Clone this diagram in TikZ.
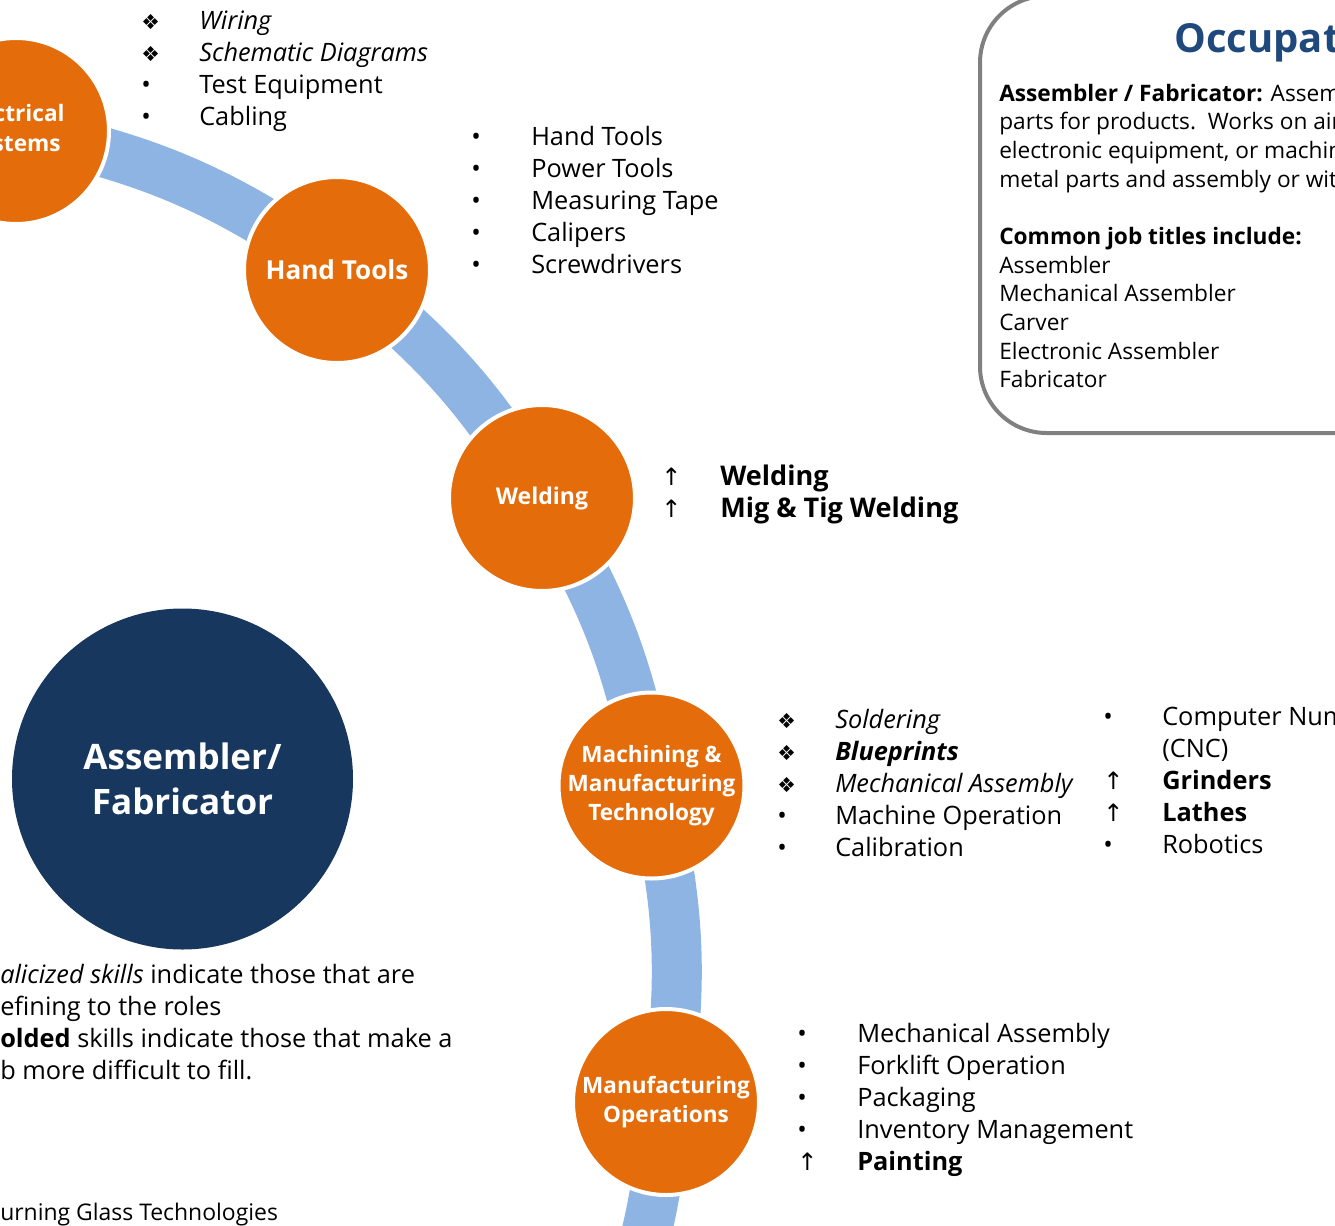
\documentclass[tikz,border=0pt]{standalone}
\usepackage{fontspec}
\setmainfont{Open Sans}
\newfontfamily\symfont{DejaVu Sans}
\usetikzlibrary{backgrounds}
\definecolor{orng}{HTML}{E46C0A}
\definecolor{navy}{HTML}{17375E}
\definecolor{ribbon}{HTML}{8EB4E3}
\definecolor{boxgray}{HTML}{808080}
\definecolor{titleblue}{HTML}{1F497D}
\newcommand\skdia{{\symfont\fontsize{15.5}{15.5}\selectfont ❖}}
\newcommand\skup{{\symfont\fontsize{18}{18}\selectfont ↑}}
\newcommand\skbul{•}
\begin{document}
\begin{tikzpicture}[x=0.75pt,y=-0.75pt,
  skill/.style={circle, fill=orng, draw=white, line width=3pt, minimum size=139.5pt,
    inner sep=0pt, text=white, align=center},
  lst/.style={anchor=base west, inner sep=0pt, font=\fontsize{19}{24}\selectfont},
  boxtxt/.style={anchor=base west, inner sep=0pt, font=\fontsize{17}{21.5}\selectfont},
  ribbonline/.style={draw=ribbon, line width=37.5pt},
]
\useasboundingbox (0,0) rectangle (1335,1225);
\clip (0,0) rectangle (1335,1225);

% skill circles
\node[skill, font=\bfseries\fontsize{17}{22.5}\selectfont] (elec) at (16,131) {Electrical\kern5pt\\Systems\kern3pt};
\node[skill, font=\bfseries\fontsize{19.6}{24}\selectfont] (hand) at (337,270) {Hand Tools};
\node[skill, font=\bfseries\fontsize{17.3}{22}\selectfont] (weld) at (542,498) {Welding};
\node[skill, font=\bfseries\fontsize{16.9}{21.75}\selectfont] (mach) at (651.5,785.5) {Machining \&\\Manufacturing\\Technology};
\node[skill, font=\bfseries\fontsize{16.9}{21.75}\selectfont] (mfg) at (666,1102) {Manufacturing\\Operations};

\coordinate (rstart) at (-140,109);
\coordinate (rend) at (622,1318);
\begin{scope}[on background layer]
\draw[ribbonline] (rstart) to[bend left=5.4] (elec.center) to[bend left=11.8] (hand.center)
  to[bend left=10.4] (weld.center) to[bend left=10.5] (mach.center)
  to[bend left=10.8] (mfg.center) to[bend left=6.5] (rend);
\end{scope}

% main circle
\node[circle, fill=navy, minimum size=255.75pt, inner sep=0pt, text=white, align=center,
  font=\bfseries\fontsize{26.3}{33.75}\selectfont] (main) at (182.5,779) {Assembler/\\Fabricator};

% skill lists
\node[lst] (elist) at (141,29) {\begin{tabular}[t]{@{}p{43.5pt}@{}l@{}}
\skdia & \textit{Wiring}\\
\skdia & \textit{Schematic Diagrams}\\
\skbul & Test Equipment\\
\skbul & Cabling\end{tabular}};

\node[lst] (hlist) at (471,145) {\begin{tabular}[t]{@{}p{45pt}@{}l@{}}
\skbul & Hand Tools\\
\skbul & Power Tools\\
\skbul & Measuring Tape\\
\skbul & Calipers\\
\skbul & Screwdrivers\end{tabular}};

\node[lst, font=\fontsize{20.3}{24}\selectfont] (wlist) at (661,485) {\begin{tabular}[t]{@{}p{44.25pt}@{}l@{}}
\skup & \textbf{Welding}\\
\skup & \textbf{Mig \& Tig Welding}\end{tabular}};

\node[lst] (mlist) at (777,728) {\begin{tabular}[t]{@{}p{43.5pt}@{}l@{}}
\skdia & \textit{Soldering}\\
\skdia & \textbf{\textit{Blueprints}}\\
\skdia & \textit{Mechanical Assembly}\\
\skbul & Machine Operation\\
\skbul & Calibration\end{tabular}};

\node[lst] (mlist2) at (1103,725) {\begin{tabular}[t]{@{}p{44.25pt}@{}l@{}}
\skbul & Computer Numerical Control\\
 & (CNC)\\
\skup & \textbf{Grinders}\\
\skup & \textbf{Lathes}\\
\skbul & Robotics\end{tabular}};

\node[lst] (olist) at (797,1042) {\begin{tabular}[t]{@{}p{45pt}@{}l@{}}
\skbul & Mechanical Assembly\\
\skbul & Forklift Operation\\
\skbul & Packaging\\
\skbul & Inventory Management\\
\skup & \textbf{Painting}\end{tabular}};

% occupation box
\draw[boxgray, line width=3pt, rounded corners=50pt] (980,-4) rectangle (1420,433);
\node[anchor=base west, inner sep=0pt, text=titleblue, font=\bfseries\fontsize{30}{36}\selectfont] (title) at (1174,52) {Occupation};
\node[boxtxt] (desc) at (999,101) {\begin{tabular}[t]{@{}l@{}}
\textbf{Assembler / Fabricator:} Assembles\\
parts for products.\ \ Works on aircraft,\\
electronic equipment, or machinery\\
metal parts and assembly or with\\
\\
\textbf{Common job titles include:}\\
Assembler\\
Mechanical Assembler\\
Carver\\
Electronic Assembler\\
Fabricator\end{tabular}};

% legend
\node[lst] (legend) at (0,983) {\begin{tabular}[t]{@{}l@{}}
\llap{\textit{It}}\textit{alicized skills} indicate those that are\\
\llap{d}efining to the roles\\
\llap{\textbf{B}}\textbf{olded} skills indicate those that make a\\
\llap{jo}b more difficult to fill.\end{tabular}};
\node[lst, font=\fontsize{17.2}{24}\selectfont] (source) at (0,1220) {\llap{B}urning Glass Technologies};
\end{tikzpicture}
\end{document}
